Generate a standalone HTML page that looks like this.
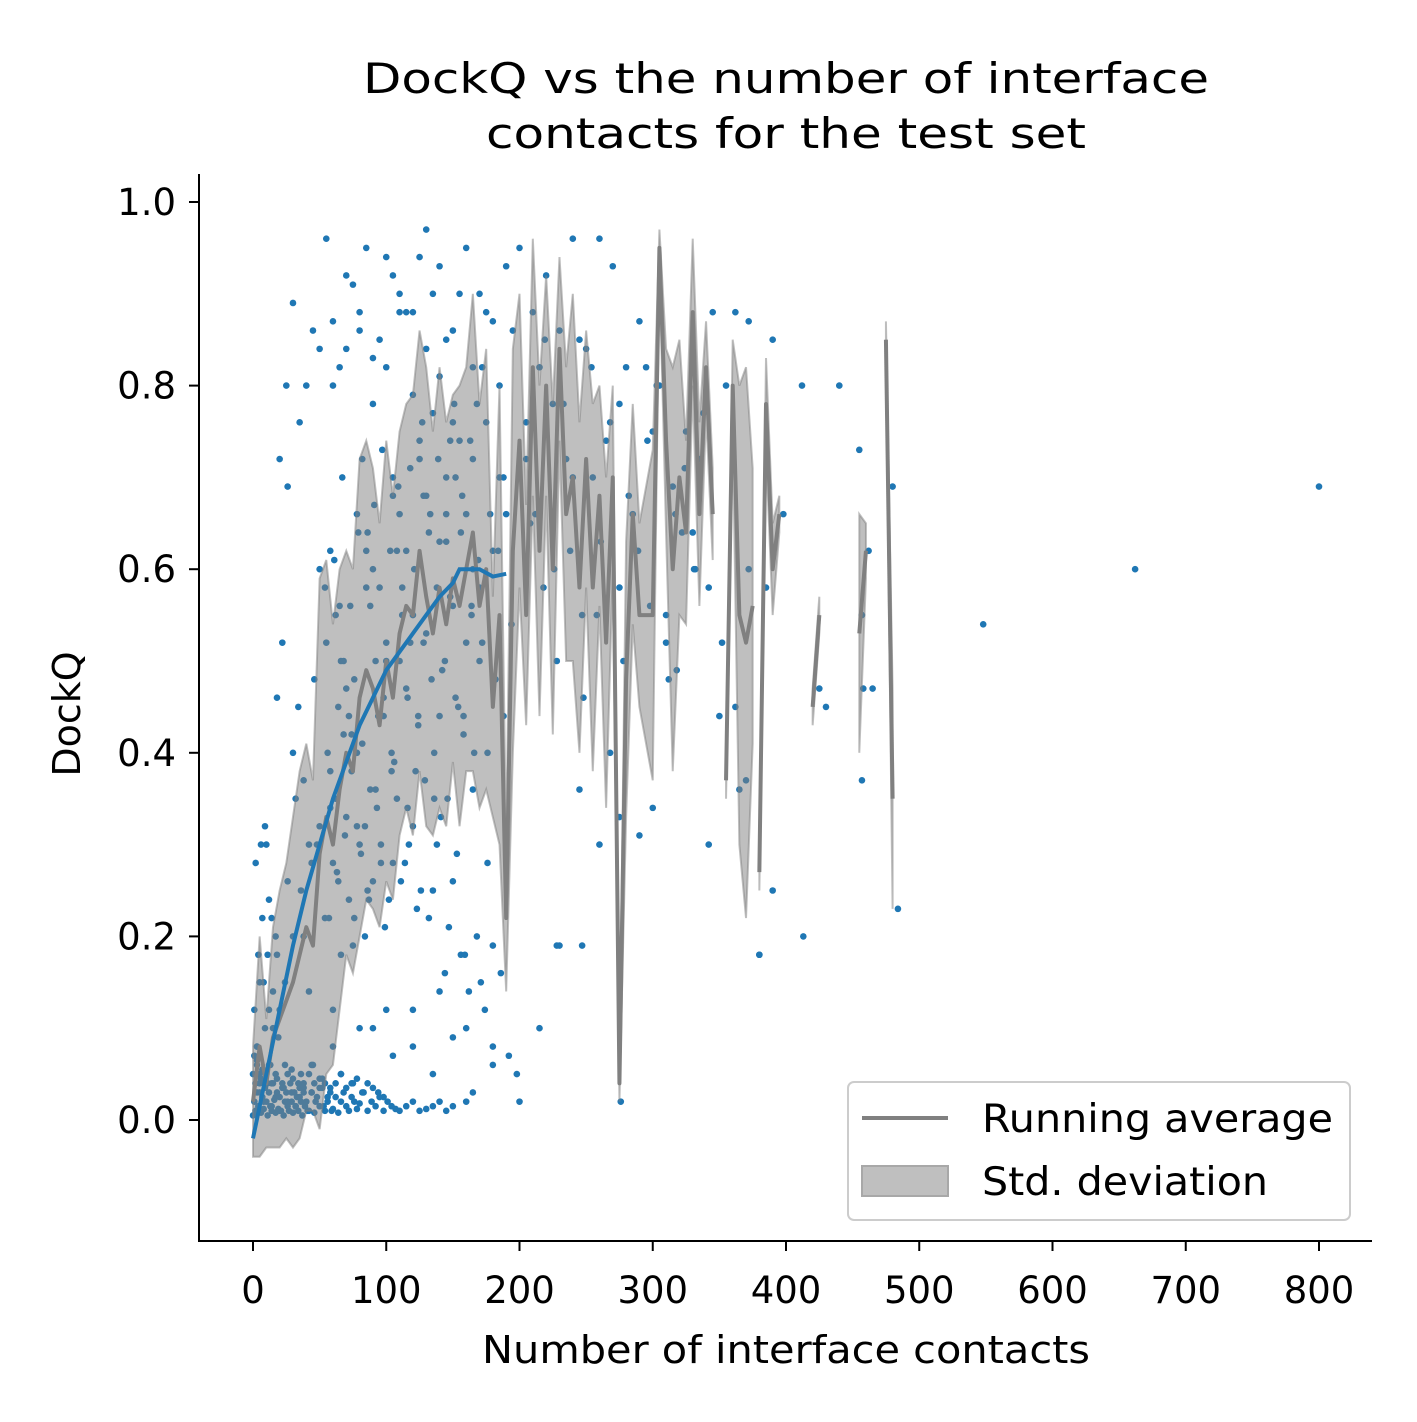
<!DOCTYPE html>
<html><head><meta charset="utf-8"><style>
html,body{margin:0;padding:0;background:#fff;}
svg text{font-family:"DejaVu Sans","Liberation Sans",sans-serif;fill:#000;}
</style></head><body>
<svg id="chart" width="1417" height="1417" xmlns="http://www.w3.org/2000/svg">
<rect width="1417" height="1417" fill="#fff"/>
<g id="scatter"></g>
<g id="band"></g>
<g id="avg"></g>
<g id="fit"></g>
<g id="axes"></g>
<text x="786" y="93" font-size="42" text-anchor="middle" textLength="846" lengthAdjust="spacingAndGlyphs">DockQ vs the number of interface</text>
<text x="786" y="148" font-size="42" text-anchor="middle" textLength="600" lengthAdjust="spacingAndGlyphs">contacts for the test set</text>
<text x="786" y="1363" font-size="38" text-anchor="middle" textLength="608" lengthAdjust="spacingAndGlyphs">Number of interface contacts</text>
<text x="80" y="714" font-size="38" text-anchor="middle" transform="rotate(-90 80 714)">DockQ</text>
<g>
<rect x="848" y="1082" width="502" height="138" rx="6" fill="#fff" fill-opacity="0.8" stroke="#ccc" stroke-width="2"/>
<line x1="862" y1="1118" x2="948" y2="1118" stroke="#808080" stroke-width="4"/>
<text x="982" y="1132" font-size="39" textLength="351" lengthAdjust="spacingAndGlyphs">Running average</text>
<rect x="862" y="1166" width="86" height="30" fill="#bfbfbf" stroke="#a8a8a8" stroke-width="2"/>
<text x="982" y="1195" font-size="39" textLength="286" lengthAdjust="spacingAndGlyphs">Std. deviation</text>
</g>
</svg>
<script>
const xTicks=[0,100,200,300,400,500,600,700,800];
const yTicks=[0.0,0.2,0.4,0.6,0.8,1.0];
const scatterX=[
0,1,2,3,4,5,6,7,8,9, 10,11,12,13,14,15,16,17,18,19, 20,21,22,23,24,25,26,27,28,29, 30,31,32,33,34,35,36,37,38,39,
40,42,44,46,48,50,52,54,56,58, 60,62,64,66,68,70,72,74,76,78, 80,83,86,89,92,95,98,101,104,107, 110,115,120,125,130,135,140,145,150,160,
0,1,2,3,4,6,8,10,14,18, 22,26,30,34,38,42,46,50,54,58, 62,66,70,74,78,82,86,90,94,98, 3,7,12,17,24,29,36,44,52,66,
2,4,6,9,12,15,18,22,26,30, 34,38,42,46,50,54,58,62,66,70, 74,78,82,86,90,95,100,105,110,115, 120,125,130,135,140,145,150,155,160,165,
170,175,180,185,190,3,8,14,20,26, 32,38,44,50,56,62,68,74,80,86, 92,98,104,110,116,122,128,134,140,146, 152,158,164,170,176,182,188,194,5,12,
18,24,30,36,42,48,54,60,66,72, 78,84,90,96,102,108,114,120,126,132, 138,144,150,156,162,168,174,180,186,192, 198,10,20,30,40,50,60,70,80,90,
100,110,120,130,140,150,160,170,180,190, 200,210,220,230,240,250,260,270,280,290, 300,25,35,45,55,65,75,85,95,105, 115,125,135,145,155,165,175,185,195,205,
215,225,235,245,255,265,275,285,295,305, 315,325,335,345,45,60,75,90,105,120, 135,150,165,180,200,215,230,245,260,275, 290,310,330,350,365,380,208,218,228,238,
248,258,268,278,288,298,312,322,332,342, 352,362,372,385,355,362,372,390,398,412, 425,440,455,458,462,480,484,548,662,800, 276,247,228,390,380,413,457,465,342,300,
318,370,430,457,65,85,105,125,145,165, 72,92,112,132,152,172,58,78,98,118, 138,158,178,64,84,104,124,144,164,184, 68,88,108,128,148,168,188,76,96,116,
136,156,176,60,80,100,120,140,160,180,
55,58,61,64,67,70,73,76,79,82, 85,88,91,94,97,100,103,106,109,112, 115,118,121,124,127,130,133,136,139,142, 145,148,151,154,157,160,163,166,169,172,
57,63,69,75,81,87,93,99,105,111, 117,123,129,135,141,147,153,159,165,171, 2,5,8,11,14,17,20,23,26,29, 32,35,38,41,44,47,50,53,56,59,
205,212,219,226,233,240,247,254,261,268, 275,282,289,296,303,310,317,324,331,338, 60,70,80,90,100,110,120,130,140,150, 1,3,5,7,9,11,13,15,17,19];
const scatterY=[
0.005,0.02,0.01,0.03,0.015,0.04,0.008,0.025,0.012,0.035, 0.02,0.005,0.03,0.015,0.01,0.04,0.022,0.008,0.03,0.012, 0.025,0.01,0.035,0.005,0.02,0.03,0.015,0.01,0.04,0.02, 0.008,0.03,0.015,0.025,0.01,0.035,0.02,0.005,0.03,0.015,
0.02,0.01,0.03,0.008,0.025,0.015,0.035,0.01,0.02,0.03, 0.012,0.025,0.008,0.02,0.03,0.015,0.01,0.025,0.02,0.012, 0.018,0.03,0.01,0.02,0.015,0.025,0.01,0.02,0.015,0.012, 0.01,0.015,0.02,0.01,0.012,0.015,0.02,0.01,0.015,0.02,
0.05,0.07,0.04,0.06,0.05,0.045,0.04,0.05,0.04,0.045, 0.04,0.05,0.045,0.04,0.035,0.05,0.04,0.045,0.04,0.035, 0.04,0.05,0.035,0.04,0.045,0.03,0.04,0.035,0.03,0.025, 0.065,0.055,0.06,0.05,0.06,0.055,0.05,0.06,0.045,0.05,
0.28,0.18,0.30,0.32,0.24,0.10,0.46,0.52,0.69,0.40, 0.45,0.37,0.30,0.48,0.60,0.58,0.62,0.55,0.50,0.47, 0.42,0.66,0.72,0.64,0.60,0.58,0.52,0.70,0.66,0.62, 0.55,0.74,0.68,0.77,0.63,0.70,0.56,0.74,0.66,0.72,
0.58,0.76,0.62,0.70,0.66,0.08,0.15,0.22,0.12,0.26, 0.35,0.20,0.28,0.32,0.40,0.35,0.42,0.38,0.30,0.25, 0.36,0.44,0.40,0.50,0.46,0.38,0.52,0.48,0.44,0.35, 0.46,0.42,0.55,0.50,0.40,0.48,0.44,0.54,0.05,0.12,
0.18,0.15,0.20,0.25,0.14,0.30,0.22,0.28,0.18,0.24, 0.32,0.20,0.26,0.30,0.24,0.35,0.28,0.32,0.25,0.22, 0.30,0.16,0.26,0.18,0.14,0.20,0.12,0.19,0.16,0.07, 0.05,0.30,0.72,0.89,0.80,0.84,0.87,0.92,0.88,0.83,
0.94,0.90,0.88,0.97,0.93,0.86,0.95,0.90,0.87,0.93, 0.95,0.88,0.92,0.86,0.96,0.84,0.96,0.93,0.82,0.87, 0.75,0.80,0.76,0.86,0.96,0.82,0.91,0.95,0.85,0.92, 0.88,0.94,0.90,0.85,0.90,0.82,0.88,0.80,0.86,0.76,
0.82,0.78,0.72,0.85,0.70,0.74,0.78,0.66,0.82,0.80, 0.69,0.75,0.72,0.88,0.06,0.08,0.04,0.10,0.07,0.12, 0.05,0.09,0.03,0.08,0.02,0.10,0.19,0.36,0.30,0.33, 0.31,0.55,0.64,0.44,0.36,0.18,0.65,0.58,0.50,0.62,
0.46,0.55,0.40,0.50,0.62,0.56,0.48,0.64,0.60,0.58, 0.52,0.45,0.60,0.58,0.80,0.88,0.87,0.85,0.66,0.80, 0.47,0.80,0.73,0.47,0.62,0.69,0.23,0.54,0.60,0.69, 0.02,0.19,0.19,0.25,0.18,0.20,0.37,0.47,0.30,0.34,
0.49,0.37,0.45,0.55,0.56,0.62,0.68,0.72,0.66,0.60, 0.44,0.50,0.58,0.64,0.70,0.52,0.34,0.40,0.46,0.52, 0.58,0.44,0.66,0.26,0.32,0.38,0.44,0.50,0.56,0.62, 0.50,0.56,0.62,0.68,0.74,0.78,0.70,0.22,0.28,0.34,
0.40,0.64,0.28,0.12,0.10,0.12,0.08,0.14,0.10,0.06,
0.52,0.38,0.61,0.45,0.70,0.33,0.56,0.48,0.64,0.41, 0.58,0.36,0.67,0.44,0.73,0.50,0.62,0.39,0.69,0.55, 0.47,0.71,0.60,0.43,0.76,0.53,0.66,0.35,0.72,0.49, 0.63,0.57,0.78,0.45,0.68,0.52,0.74,0.40,0.61,0.82,
0.22,0.27,0.31,0.19,0.29,0.24,0.34,0.21,0.28,0.26, 0.30,0.23,0.37,0.25,0.33,0.21,0.29,0.18,0.36,0.15, 0.01,0.03,0.02,0.04,0.015,0.025,0.01,0.035,0.02,0.03, 0.015,0.025,0.04,0.01,0.03,0.02,0.035,0.015,0.025,0.01,
0.72,0.66,0.85,0.60,0.78,0.70,0.55,0.82,0.63,0.76, 0.58,0.68,0.62,0.74,0.80,0.52,0.66,0.71,0.60,0.77, 0.80,0.84,0.86,0.78,0.82,0.88,0.79,0.84,0.81,0.76, 0.12,0.08,0.15,0.22,0.10,0.18,0.06,0.14,0.20,0.09];
const avgX=[0,5,10,15,20,25,30,35,40,45,50,55,60,65,70,75,80,85,90,95,100,105,110,115,120,125,130,135,140,145,150,155,160,165,170,175,180,185,190,195,200,205,210,215,220,225,230,235,240,245,250,255,260,265,270,275,280,285,290,300,305,310,315,320,325,330,335,340,345,350,355,360,365,370,375,378,380,385,390,395,400,420,425,430,455,460,465,475,480];
const avgY=[0.02,0.08,0.04,0.09,0.11,0.13,0.15,0.18,0.21,0.19,0.29,0.33,0.30,0.36,0.40,0.38,0.46,0.49,0.47,0.43,0.50,0.46,0.53,0.56,0.55,0.62,0.57,0.53,0.58,0.54,0.59,0.56,0.60,0.64,0.56,0.60,0.45,0.55,0.22,0.62,0.74,0.55,0.82,0.62,0.80,0.60,0.84,0.66,0.70,0.58,0.72,0.58,0.68,0.52,0.70,0.04,0.48,0.66,0.55,0.55,0.95,0.74,0.60,0.70,0.64,0.88,0.66,0.82,0.66,null,0.37,0.80,0.55,0.52,0.56,null,0.27,0.78,0.60,0.66,null,0.45,0.55,null,0.53,0.62,null,0.85,0.35];
const avgSd=[0.06,0.12,0.07,0.12,0.14,0.15,0.18,0.20,0.20,0.18,0.30,0.28,0.24,0.24,0.22,0.22,0.26,0.25,0.24,0.22,0.24,0.22,0.22,0.22,0.24,0.24,0.25,0.22,0.24,0.22,0.20,0.24,0.22,0.26,0.22,0.24,0.12,0.25,0.08,0.22,0.16,0.12,0.14,0.18,0.12,0.18,0.10,0.16,0.20,0.18,0.14,0.20,0.12,0.18,0.10,0.02,0.15,0.12,0.10,0.18,0.02,0.10,0.22,0.15,0.10,0.08,0.10,0.05,0.05,null,0.02,0.05,0.25,0.30,0.15,null,0.02,0.05,0.05,0.02,null,0.02,0.02,null,0.13,0.03,null,0.02,0.12];
const fitX=[0,10,20,30,40,50,60,70,80,90,100,110,120,130,140,150,155,160,170,180,190];
const fitY=[-0.02,0.05,0.12,0.19,0.25,0.30,0.35,0.39,0.43,0.46,0.49,0.51,0.53,0.55,0.57,0.585,0.60,0.60,0.60,0.592,0.595];

const X0=253,XK=1.3325,Y0=1120,YK=918;
const sx=v=>X0+v*XK, sy=v=>Y0-v*YK;
const NS='http://www.w3.org/2000/svg';
function mk(tag,parent){const e=document.createElementNS(NS,tag);parent.appendChild(e);return e;}

const gS=document.getElementById('scatter');
for(let i=0;i<scatterX.length&&i<scatterY.length;i++){
  const c=mk('circle',gS);
  c.setAttribute('cx',sx(scatterX[i]));c.setAttribute('cy',sy(scatterY[i]));c.setAttribute('r',3.3);c.setAttribute('fill','#1f77b4');
  
  
}
const segs=[];let cur=[];
for(let i=0;i<avgX.length;i++){ if(avgY[i]==null){if(cur.length)segs.push(cur);cur=[];} else cur.push(i);}
if(cur.length)segs.push(cur);
const gB=document.getElementById('band'), gA=document.getElementById('avg');
segs.forEach(s=>{
  if(s.length<2)return;
  let up=s.map(i=>sx(avgX[i])+','+sy(avgY[i]+avgSd[i]));
  let lo=s.slice().reverse().map(i=>sx(avgX[i])+','+sy(avgY[i]-avgSd[i]));
  const p=mk('polygon',gB);
  p.setAttribute('points',up.concat(lo).join(' '));
  p.setAttribute('fill','#808080');p.setAttribute('fill-opacity','0.5');p.setAttribute('stroke','#808080');p.setAttribute('stroke-opacity','0.5');p.setAttribute('stroke-width','2');
  
  
  const l=mk('polyline',gA);
  l.setAttribute('points',s.map(i=>sx(avgX[i])+','+sy(avgY[i])).join(' '));
  l.setAttribute('fill','none');l.setAttribute('stroke','#808080');l.setAttribute('stroke-width','4');l.setAttribute('stroke-linejoin','round');
  
  
});
const gF=document.getElementById('fit');
const f=mk('polyline',gF);
f.setAttribute('points',fitX.map((x,i)=>sx(x)+','+sy(fitY[i])).join(' '));
f.setAttribute('fill','none');f.setAttribute('stroke','#1f77b4');f.setAttribute('stroke-width','4');



const gX=document.getElementById('axes');
const sp1=mk('line',gX);sp1.setAttribute('x1',199);sp1.setAttribute('y1',174);sp1.setAttribute('x2',199);sp1.setAttribute('y2',1242);sp1.setAttribute('stroke','#000');sp1.setAttribute('stroke-width',2);


const sp2=mk('line',gX);sp2.setAttribute('x1',198);sp2.setAttribute('y1',1241);sp2.setAttribute('x2',1372);sp2.setAttribute('y2',1241);sp2.setAttribute('stroke','#000');sp2.setAttribute('stroke-width',2);


xTicks.forEach(t=>{
  const l=mk('line',gX);l.setAttribute('x1',sx(t));l.setAttribute('x2',sx(t));l.setAttribute('y1',1241);l.setAttribute('y2',1251);l.setAttribute('stroke','#000');l.setAttribute('stroke-width',2);
  
  
  const tx=mk('text',gX);tx.setAttribute('x',sx(t));tx.setAttribute('y',1303);tx.setAttribute('font-size','37');tx.setAttribute('text-anchor','middle');tx.textContent=t;
  
  
});
yTicks.forEach(t=>{
  const l=mk('line',gX);l.setAttribute('x1',189);l.setAttribute('x2',199);l.setAttribute('y1',sy(t));l.setAttribute('y2',sy(t));l.setAttribute('stroke','#000');l.setAttribute('stroke-width',2);
  
  
  const tx=mk('text',gX);tx.setAttribute('x',176);tx.setAttribute('y',sy(t)+13);tx.setAttribute('font-size','37');tx.setAttribute('text-anchor','end');tx.textContent=t.toFixed(1);
  
  
});
</script>
</body></html>
